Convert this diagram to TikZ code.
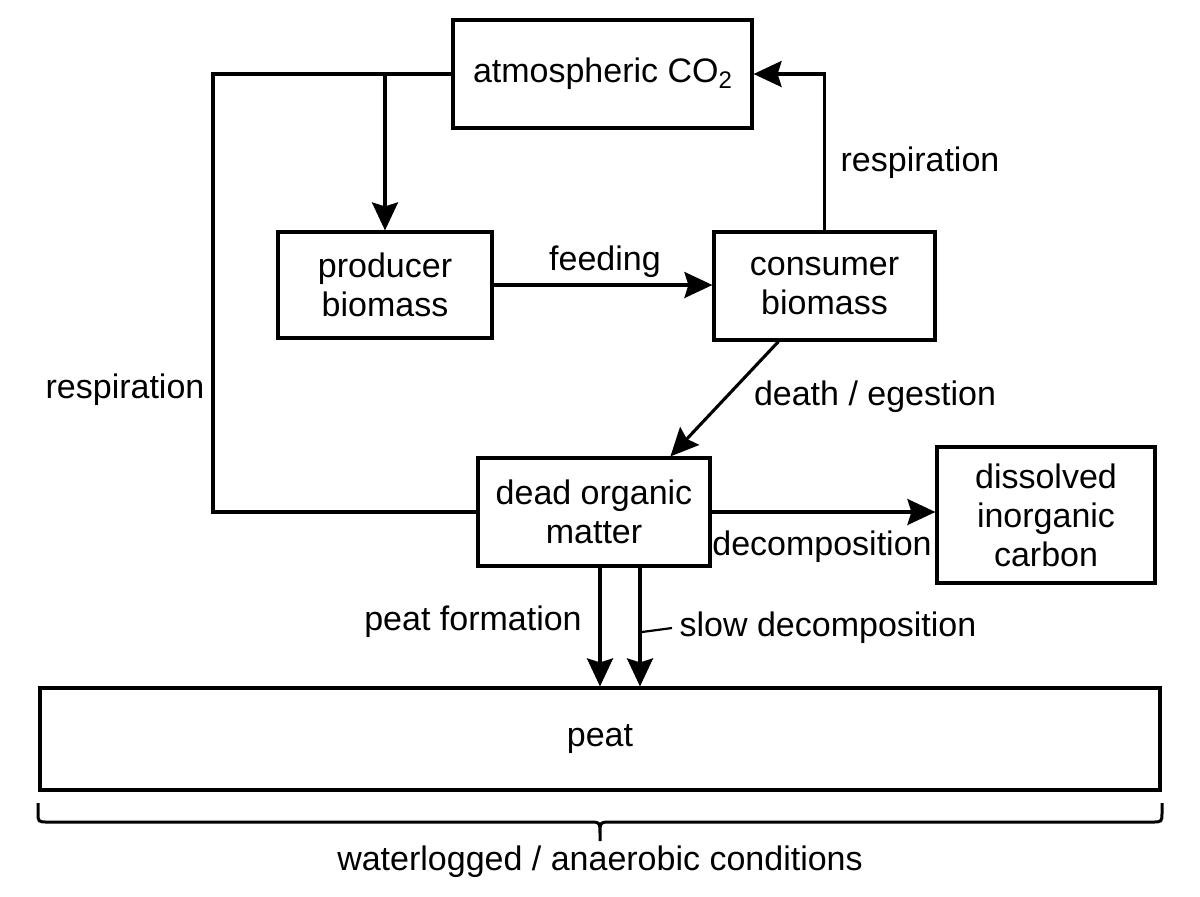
\documentclass[tikz,border=0pt]{standalone}
\usepackage{fontspec}
\setmainfont{Liberation Sans}
\usetikzlibrary{arrows.meta,calc}
\begin{document}
\begin{tikzpicture}[x=0.5pt,y=-0.5pt,
  every node/.style={font=\fontsize{17}{19.5}\selectfont},
  box/.style={draw,line width=1.6pt,align=center,inner sep=0pt},
  arr/.style={line width=1.55pt,-{Stealth[length=14pt,width=13pt,inset=2pt]}},
  conn/.style={line width=1.55pt},
  lab/.style={inner sep=0pt}]
\useasboundingbox (0,0) rectangle (1200,896);
% boxes
\node[box,minimum width=149.5pt,minimum height=54pt] (atm) at (602.5,74) {atmospheric CO\raisebox{-0.3ex}{\fontsize{12}{12}\selectfont 2}};
\node[box,minimum width=107pt,minimum height=53pt] (prod) at (385,285) {producer\\biomass};
\node[box,minimum width=110.5pt,minimum height=54pt] (cons) at (824.5,286) {consumer\\biomass};
\node[box,minimum width=116pt,minimum height=54pt] (dom) at (594,512) {dead organic\\matter};
\node[box,minimum width=109pt,minimum height=68pt] (dic) at (1046,515) {dissolved\\inorganic\\carbon};
\node[box,minimum width=560pt,minimum height=51pt] (peat) at (600,739) {peat};
% helper coordinates
\coordinate (lc) at (213,74);
\coordinate (j1) at (prod.north |- atm.west);
\coordinate (ds) at ($(cons.south west)+(66,0)$);
\coordinate (de) at ($(dom.north west)+(194,0)$);
\coordinate (pf) at ($(dom.south)+(6,0)$);
\coordinate (sd) at ($(dom.south)+(46,0)$);
\coordinate (t1) at (642,632);
\coordinate (t2) at (672,628);
% connectors
\draw[conn] (atm.west) -- (lc) |- (dom.west);
\draw[arr] (j1) -- (prod.north);
\draw[arr] (prod.east) -- (prod.east -| cons.west);
\draw[arr] (cons.north) |- (atm.east);
\draw[arr] (ds) -- (de);
\draw[arr] (dom.east) -- (dom.east -| dic.west);
\draw[arr] (pf) -- (pf |- peat.north);
\draw[arr] (sd) -- (sd |- peat.north);
\draw[line width=1.1pt] (t1) -- (t2);
% brace
\draw[line width=1.5pt]
  (38,803) -- (38,812) .. controls (38,822) .. (48,822) -- (588,822)
  .. controls (600,822) .. (600,834) -- (600,841)
  (600,834) .. controls (600,822) .. (612,822) -- (1152,822)
  .. controls (1162,822) .. (1162,812) -- (1162,803);
% labels
\node[lab] (lfeed) at (605,262) {feeding};
\node[lab] (lresr) at (920,163) {respiration};
\node[lab] (lresl) at (125,390) {respiration};
\node[lab] (ldeath) at (875,397) {death / egestion};
\node[lab] (ldec) at (822,547) {decomposition};
\node[lab] (lpf) at (473,622) {peat formation};
\node[lab] (lsd) at (828,628) {slow decomposition};
\node[lab] (lwat) at (600,862) {waterlogged / anaerobic conditions};
\end{tikzpicture}
\end{document}
